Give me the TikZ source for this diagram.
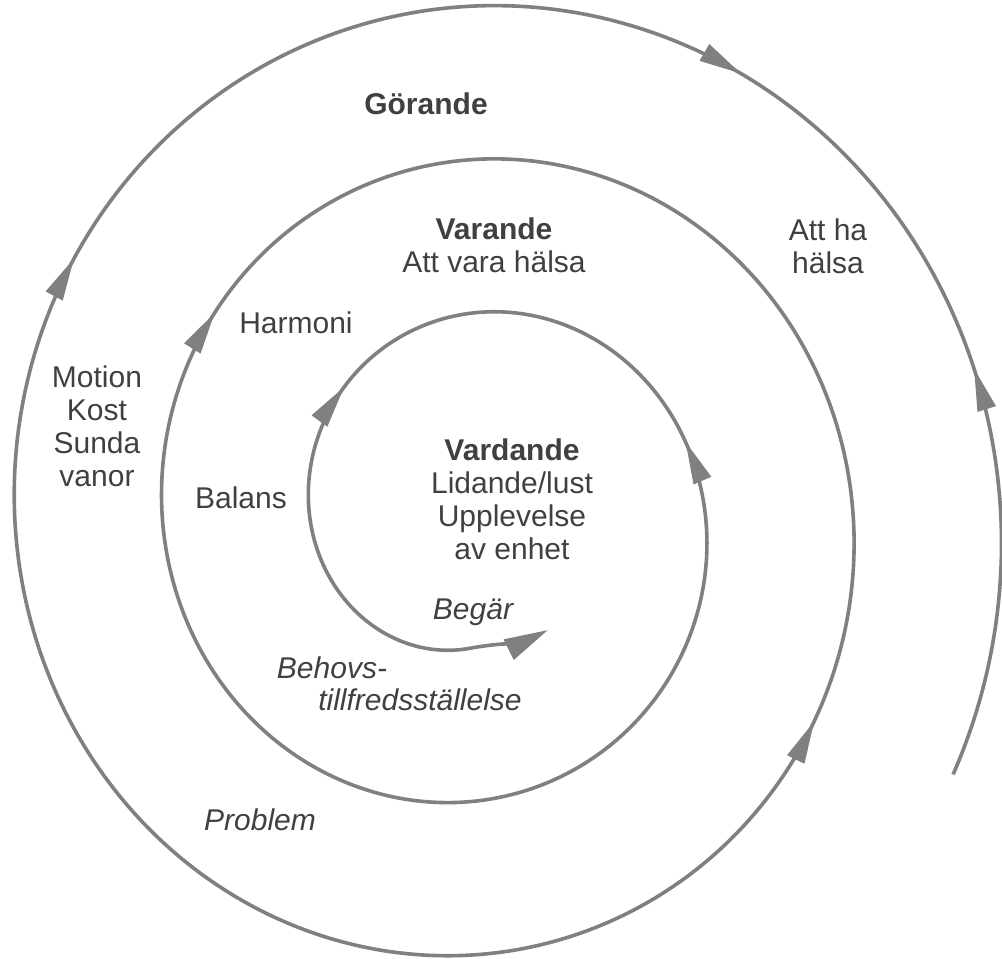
\documentclass[tikz,border=0pt]{standalone}
\usepackage{fontspec}
\setmainfont{Liberation Sans}
\usetikzlibrary{arrows.meta,decorations.markings}
\definecolor{linegray}{gray}{0.5}
\definecolor{textgray}{gray}{0.25}
\begin{document}
\begin{tikzpicture}[x=0.5pt,y=0.5pt,
  declare function={sr(\t)=530-0.41*\t; sx(\t)=471+sr(\t)*cos(\t); sy(\t)=440+1.04*sr(\t)*sin(\t);},
  spiral/.style={draw=linegray, line width=1.8pt},
  amark/.style={decoration={markings, mark=at position 1 with {\arrow[color=linegray, fill=linegray, line width=0.8pt]{Triangle[length=21pt,width=9.5pt]}}}, decorate},
  lbl/.style={text=textgray, font=\fontsize{15}{16.5}\selectfont, align=center, inner sep=0pt},
  ]
\useasboundingbox (0,0) rectangle (1002,959);
% spiral
\draw[spiral] plot[domain=-27:990, samples=1200] ({sx(\x)},{sy(\x)});
\draw[spiral, -{Triangle[length=22pt,width=11pt]}] ({sx(990)},{sy(990)}) .. controls +(25,4.4) and (526,318) .. (548,329);
% arrowheads along the spiral (from -> tip angle)
\foreach \a/\b in {14/16, 59.8/57.8, 149.8/147.8, 328.4/330.4, 504.3/502.3, 737/739, 857/855}{
  \path[amark] plot[domain=\a:\b, samples=3] ({sx(\x)},{sy(\x)});
}
% labels
\node[lbl] (gorande) at (426,855) {\textbf{Görande}};
\node[lbl] (varande) at (494,714) {\textbf{Varande}\\Att vara hälsa};
\node[lbl] (attha) at (828,713) {Att ha\\hälsa};
\node[lbl] (harmoni) at (296,636) {Harmoni};
\node[lbl] (motion) at (97,533) {Motion\\Kost\\Sunda\\vanor};
\node[lbl] (balans) at (241,461) {Balans};
\node[lbl] (vardande) at (512,460) {\textbf{Vardande}\\Lidande/lust\\Upplevelse\\av enhet};
\node[lbl] (begar) at (473,347) {\itshape Begär};
\node[lbl] (behovs) at (332,291) {\itshape Behovs-};
\node[lbl] (tillfreds) at (420,259) {\itshape tillfredsställelse};
\node[lbl] (problem) at (260,139) {\itshape Problem};
\end{tikzpicture}
\end{document}
